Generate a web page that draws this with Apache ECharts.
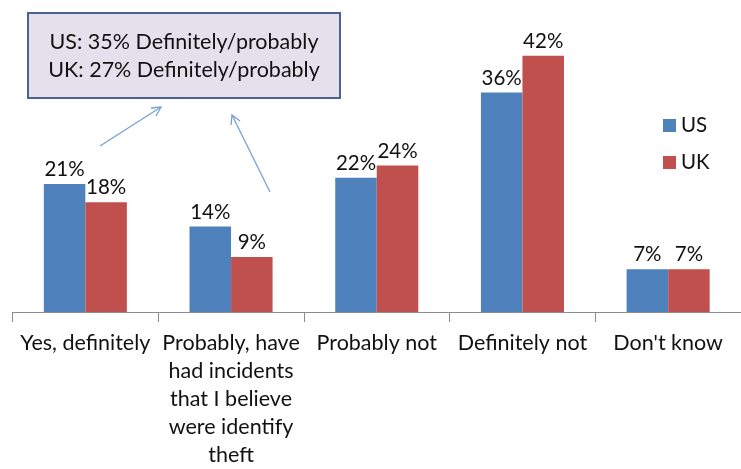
<!DOCTYPE html>
<html>
<head>
<meta charset="utf-8">
<script src="https://cdn.jsdelivr.net/npm/echarts@6/dist/echarts.min.js"></script>
<style>
html,body{margin:0;padding:0;background:#fff;}
#chart{width:741px;height:469px;}
</style>
</head>
<body>
<div id="chart"></div>
<script>
const categories = [
  "Yes, definitely",
  "Probably, have\nhad incidents\nthat I believe\nwere identify\ntheft",
  "Probably not",
  "Definitely not",
  "Don't know"
];
const usValues = [21, 14, 22, 36, 7];
const ukValues = [18, 9, 24, 42, 7];
const seriesNames = ["US", "UK"];
const noteLines = ["US: 35% Definitely/probably", "UK: 27% Definitely/probably"];

const FONT = "Lato, 'Open Sans', sans-serif";
const TXT = "#111111";
const chart = echarts.init(document.getElementById('chart'), null, {renderer: 'canvas'});

const labelCfg = {
  show: true, position: 'top', distance: 4,
  formatter: p => p.value + '%',
  fontFamily: FONT, fontSize: 20.5, color: TXT
};

chart.setOption({
  animation: false,
  backgroundColor: '#fff',
  grid: {left: 12.5, top: 7, width: 740, height: 310},
  legend: {
    orient: 'vertical', left: 658, top: 109,
    itemWidth: 13, itemHeight: 13, itemGap: 14,
    icon: 'rect',
    textStyle: {fontFamily: FONT, fontSize: 20.5, color: TXT, lineHeight: 23},
    data: seriesNames
  },
  xAxis: {
    type: 'category', data: categories,
    axisLine: {lineStyle: {color: '#8c8c8c', width: 1}},
    axisTick: {show: true, length: 10, lineStyle: {color: '#8c8c8c'}},
    axisLabel: {interval: 0, margin: 17, fontFamily: FONT, fontSize: 21.5, color: TXT, lineHeight: 28}
  },
  yAxis: {type: 'value', min: 0, max: 50, show: false, splitLine: {show: false}},
  series: [
    {name: seriesNames[0], type: 'bar', data: usValues, barGap: '0%', barCategoryGap: '43%',
     itemStyle: {color: '#4f81bd'}, label: labelCfg},
    {name: seriesNames[1], type: 'bar', data: ukValues,
     itemStyle: {color: '#c0504d'}, label: labelCfg}
  ],
  graphic: [
    {type: 'rect', shape: {x: 28, y: 13, width: 312, height: 85},
     style: {fill: '#e5e0ec', stroke: '#4d6190', lineWidth: 2}},
    {type: 'text', x: 184, y: 42, style: {text: noteLines[0], font: '21.5px ' + FONT, fill: TXT, align: 'center', verticalAlign: 'middle'}},
    {type: 'text', x: 184, y: 70, style: {text: noteLines[1], font: '21.5px ' + FONT, fill: TXT, align: 'center', verticalAlign: 'middle'}},
    {type: 'line', shape: {x1: 100, y1: 146, x2: 161, y2: 107}, style: {stroke: '#7aa0d2', lineWidth: 1.3}},
    {type: 'polyline', shape: {points: [[151, 108], [161, 107], [156, 116]]}, style: {stroke: '#7aa0d2', lineWidth: 1.3, fill: null}},
    {type: 'line', shape: {x1: 270, y1: 192, x2: 232, y2: 115}, style: {stroke: '#7aa0d2', lineWidth: 1.3}},
    {type: 'polyline', shape: {points: [[231, 125], [232, 115], [240, 121]]}, style: {stroke: '#7aa0d2', lineWidth: 1.3, fill: null}}
  ]
});
</script>
</body>
</html>
